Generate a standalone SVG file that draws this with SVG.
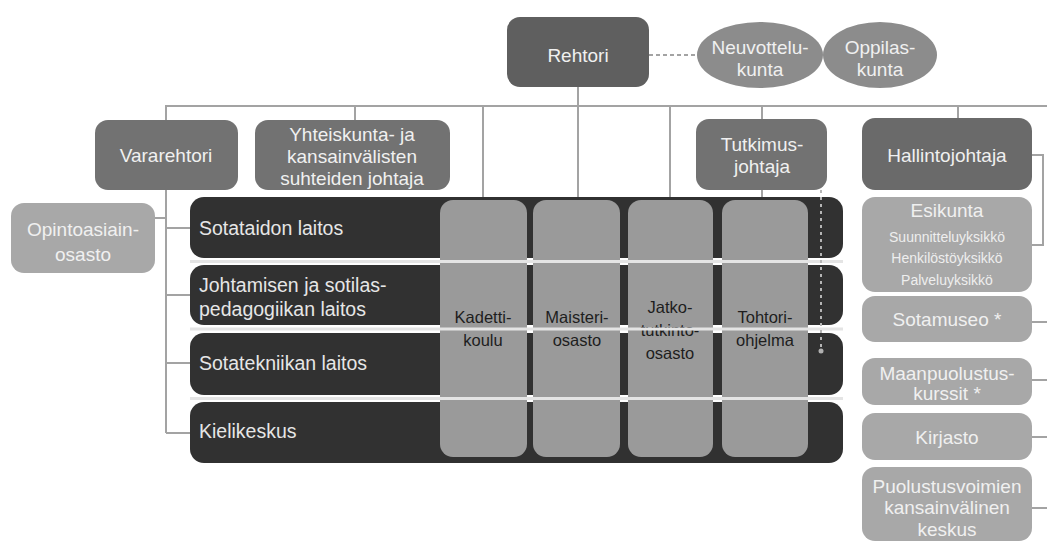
<svg xmlns="http://www.w3.org/2000/svg" width="1047" height="545" viewBox="0 0 1047 545">
<defs>
<style>
text{font-family:"Liberation Sans",Arial,sans-serif;text-anchor:middle}
.ln{stroke:#a3a3a3;stroke-width:2;fill:none}
.dk{fill:#5f5f5f}
.md{fill:#727272}
.el{fill:#8c8c8c}
.lt{fill:#a8a8a8}
.bar{fill:#313131}
.col{fill:#9a9a9a}
.wt{fill:#f0f0f0;font-size:19px}
.bt{fill:#e6e6e6;font-size:19.5px;text-anchor:start}
.ct{fill:#1e1e1e;font-size:16.5px}
.sm{fill:#eeeeee;font-size:14px}
</style>
<marker id="dot" markerWidth="6" markerHeight="6" refX="3" refY="3" markerUnits="userSpaceOnUse"><circle cx="3" cy="3" r="2.5" fill="#b0b0b0"/></marker>
</defs>
<rect width="1047" height="545" fill="#ffffff"/>
<g id="connectors">
<line class="ln" x1="165" y1="106" x2="1047" y2="106"/>
<line class="ln" x1="578" y1="87" x2="578" y2="200"/>
<line class="ln" x1="483" y1="106" x2="483" y2="200"/>
<line class="ln" x1="670" y1="106" x2="670" y2="200"/>
<line class="ln" x1="762" y1="106" x2="762" y2="200"/>
<line class="ln" x1="355" y1="106" x2="355" y2="120"/>
<line class="ln" x1="958" y1="106" x2="958" y2="118"/>
<line class="ln" x1="166" y1="106" x2="166" y2="433"/>
<line class="ln" x1="155" y1="218" x2="166" y2="218"/>
<line class="ln" x1="166" y1="228" x2="190" y2="228"/>
<line class="ln" x1="166" y1="295" x2="190" y2="295"/>
<line class="ln" x1="166" y1="363" x2="190" y2="363"/>
<line class="ln" x1="166" y1="433" x2="190" y2="433"/>
<polyline class="ln" points="1032,155 1043,155 1043,245 1032,245"/>
<line class="ln" x1="1032" y1="322" x2="1047" y2="322"/>
<line class="ln" x1="1032" y1="380" x2="1047" y2="380"/>
<line class="ln" x1="1032" y1="437" x2="1047" y2="437"/>
<line class="ln" x1="1032" y1="508" x2="1047" y2="508"/>
<line stroke="#a3a3a3" stroke-width="2" stroke-dasharray="4,3" x1="649" y1="55" x2="697" y2="55"/>
</g>
<g id="rehtori"><rect class="dk" x="507" y="17" width="142" height="70" rx="13"/><text class="wt" x="578" y="62" font-size="20">Rehtori</text></g>
<g id="neuvottelukunta"><ellipse class="el" cx="760" cy="55" rx="63" ry="33"/><text class="wt" x="760" y="54">Neuvottelu-</text><text class="wt" x="760" y="76">kunta</text></g>
<g id="oppilaskunta"><ellipse class="el" cx="880" cy="55" rx="57" ry="33"/><text class="wt" x="880" y="54">Oppilas-</text><text class="wt" x="880" y="76">kunta</text></g>
<g id="vararehtori"><rect class="md" x="95" y="120" width="143" height="70" rx="13"/><text class="wt" x="166" y="162">Vararehtori</text></g>
<g id="yhteiskunta"><rect class="md" x="255" y="120" width="195" height="70" rx="13"/><text class="wt" x="352" y="141">Yhteiskunta- ja</text><text class="wt" x="352" y="163">kansainvälisten</text><text class="wt" x="352" y="185">suhteiden johtaja</text></g>
<g id="tutkimusjohtaja"><rect class="md" x="696" y="119" width="131" height="71" rx="13"/><text class="wt" x="762" y="151">Tutkimus-</text><text class="wt" x="762" y="173">johtaja</text></g>
<g id="opintoasiainosasto"><rect class="lt" x="11" y="203" width="144" height="70" rx="13"/><text class="wt" x="83" y="236">Opintoasiain-</text><text class="wt" x="83" y="261">osasto</text></g>
<g id="sotataidon"><rect class="bar" x="190" y="197" width="653" height="61" rx="14"/><text class="bt" x="199" y="235">Sotataidon laitos</text></g>
<g id="johtamisen"><rect class="bar" x="190" y="265" width="653" height="60" rx="14"/><text class="bt" x="199" y="292">Johtamisen ja sotilas-</text><text class="bt" x="199" y="316">pedagogiikan laitos</text></g>
<g id="sotatekniikan"><rect class="bar" x="190" y="333" width="653" height="62" rx="14"/><text class="bt" x="199" y="370">Sotatekniikan laitos</text></g>
<g id="kielikeskus"><rect class="bar" x="190" y="402" width="653" height="61" rx="14"/><text class="bt" x="199" y="438">Kielikeskus</text></g>
<g id="kadettikoulu"><rect class="col" x="440" y="200" width="87" height="257" rx="13"/><text class="ct" x="483" y="323">Kadetti-</text><text class="ct" x="483" y="346">koulu</text></g>
<g id="maisteriosasto"><rect class="col" x="533" y="200" width="87" height="257" rx="13"/><text class="ct" x="577" y="323">Maisteri-</text><text class="ct" x="577" y="346">osasto</text></g>
<g id="jatkotutkinto"><rect class="col" x="628" y="200" width="85" height="257" rx="13"/><text class="ct" x="670" y="313">Jatko-</text><text class="ct" x="670" y="336">tutkinto-</text><text class="ct" x="670" y="359">osasto</text></g>
<g id="tohtoriohjelma"><rect class="col" x="722" y="200" width="86" height="257" rx="13"/><text class="ct" x="765" y="323">Tohtori-</text><text class="ct" x="765" y="346">ohjelma</text></g>
<g id="gaps" stroke="#e4e4e4" stroke-width="3">
<line x1="190" y1="261.5" x2="843" y2="261.5"/>
<line x1="190" y1="329" x2="843" y2="329"/>
<line x1="190" y1="398.5" x2="843" y2="398.5"/>
</g>
<g id="tutkimus-link"><line stroke="#b5b5b5" stroke-width="2" stroke-dasharray="3,4" x1="821" y1="190" x2="821" y2="351" marker-end="url(#dot)"/></g>
<g id="hallintojohtaja"><rect x="862" y="118" width="170" height="72" rx="13" fill="#6a6a6a"/><text class="wt" x="947" y="162">Hallintojohtaja</text></g>
<g id="esikunta"><rect class="lt" x="862" y="197" width="170" height="95" rx="13"/><text class="wt" x="947" y="217">Esikunta</text><text class="sm" x="947" y="242">Suunnitteluyksikkö</text><text class="sm" x="947" y="263">Henkilöstöyksikkö</text><text class="sm" x="947" y="285">Palveluyksikkö</text></g>
<g id="sotamuseo"><rect class="lt" x="862" y="296" width="170" height="46" rx="13"/><text class="wt" x="947" y="326">Sotamuseo *</text></g>
<g id="maanpuolustus"><rect class="lt" x="862" y="358" width="170" height="47" rx="13"/><text class="wt" x="947" y="380">Maanpuolustus-</text><text class="wt" x="947" y="400">kurssit *</text></g>
<g id="kirjasto"><rect class="lt" x="862" y="413" width="170" height="47" rx="13"/><text class="wt" x="947" y="444">Kirjasto</text></g>
<g id="puolustusvoimien"><rect class="lt" x="862" y="467" width="170" height="74" rx="13"/><text class="wt" x="947" y="493">Puolustusvoimien</text><text class="wt" x="947" y="514">kansainvälinen</text><text class="wt" x="947" y="536">keskus</text></g>
</svg>
